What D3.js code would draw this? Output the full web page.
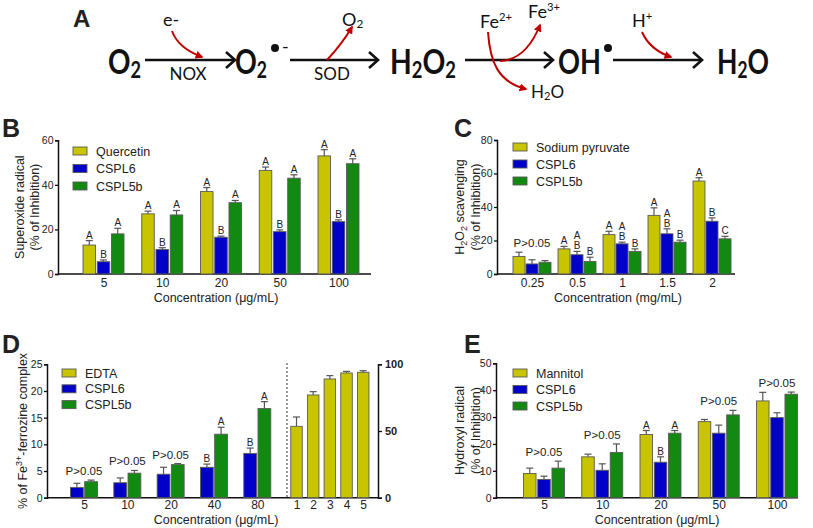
<!DOCTYPE html>
<html>
<head>
<meta charset="utf-8">
<script src="https://cdn.jsdelivr.net/npm/d3@7"></script>
<style>
  body { margin: 0; background: #fff; }
  text { font-family: "Liberation Sans", Arial, sans-serif; fill: #222; }
  .big { font-family: Lato, "Open Sans", sans-serif; font-weight: bold; fill: #111; }
  .chem { font-family: Lato, "Open Sans", sans-serif; fill: #111; }
</style>
</head>
<body>
<svg id="fig" width="813" height="528"></svg>
<script>
// ---- data ----
const bCats = ['5', '10', '20', '50', '100']
const bQuercetin = [13, 27, 37, 46.5, 53]
const bQuercetinErr = [2, 1.2, 1.8, 1.5, 2.8]
const bCSPL6 = [5.5, 11, 16.5, 19, 23.5]
const bCSPL6Err = [0.8, 0.8, 0.5, 0.8, 0.8]
const bCSPL5b = [18, 26.5, 32, 43, 49.5]
const bCSPL5bErr = [2.5, 2, 1, 1.5, 2.2]
const bLetters = [['A','A','A','A','A'], ['B','B','B','B','B'], ['A','A','A','A','A']]
const bTicks = [0, 20, 40, 60]

const cCats = ['0.25', '0.5', '1', '1.5', '2']
const cPyruvate = [10.5, 15, 23.5, 35, 55.5]
const cPyruvateErr = [2.5, 1.5, 2, 4.5, 2]
const cCSPL6 = [6, 11.5, 18, 24, 31.5]
const cCSPL6Err = [2.5, 2, 1, 3, 2]
const cCSPL5b = [7, 7.5, 13.5, 19, 21]
const cCSPL5bErr = [1, 2.5, 1.5, 1.2, 1.5]
const cLetters = [['','A','A','A','A'], ['','AB','AB','AB','B'], ['','B','B','B','C']]
const cPvals = ['P>0.05', '', '', '', '']
const cTicks = [0, 20, 40, 60, 80]

const dCats = ['5', '10', '20', '40', '80']
const dCSPL6 = [1.9, 2.8, 4.4, 5.7, 8.3]
const dCSPL6Err = [0.8, 0.9, 1.3, 0.6, 1.0]
const dCSPL5b = [3, 4.6, 6.2, 11.9, 16.7]
const dCSPL5bErr = [0.3, 0.5, 0.2, 1.3, 1.3]
const dLetters = [['','','','B','B'], ['','','','A','A']]
const dPvals = ['P>0.05', 'P>0.05', 'P>0.05', '', '']
const dTicks = [0, 5, 10, 15, 20, 25]
const dEdtaCats = ['1', '2', '3', '4', '5']
const dEdta = [53.5, 77, 89, 93.5, 94]
const dEdtaErr = [7, 2.5, 2.5, 1.2, 1.2]
const dEdtaTicks = [0, 50, 100]

const eCats = ['5', '10', '20', '50', '100']
const eMannitol = [9, 15.2, 23.5, 28.3, 36]
const eMannitolErr = [2, 1, 1.5, 0.8, 3.2]
const eCSPL6 = [6.8, 10.2, 13.2, 24, 29.8]
const eCSPL6Err = [1.2, 2.4, 2, 3, 1.8]
const eCSPL5b = [11, 16.8, 24, 30.8, 38.5]
const eCSPL5bErr = [2.6, 3.2, 1, 1.7, 0.8]
const eLetters = [['','','A','',''], ['','','B','',''], ['','','A','','']]
const ePvals = ['P>0.05', 'P>0.05', '', 'P>0.05', 'P>0.05']
const eTicks = [0, 10, 20, 30, 40, 50]

const YELLOW = '#c8c400', BLUE = '#0000c8', GREEN = '#128a12'

const svg = d3.select('#fig')

// ---- panel A: reaction scheme ----
const defs = svg.append('defs')
defs.append('marker').attr('id', 'redhead')
  .attr('viewBox', '0 0 10 10').attr('refX', 8).attr('refY', 5)
  .attr('markerWidth', 4).attr('markerHeight', 4).attr('orient', 'auto')
  .append('path').attr('d', 'M0,0 L10,5 L0,10 z').attr('fill', '#c00000')

const A = svg.append('g')
A.append('text').attr('x', 73).attr('y', 27).attr('font-size', 24).attr('font-weight', 'bold').text('A')

// formula text; if len given, squeeze horizontally to that width
function chem (x, y, parts, size, cls, len) {
  const holder = A.append('g').attr('transform', `translate(${x},${y})`)
  const t = holder.append('text').attr('class', cls).attr('font-size', size)
  parts.forEach(p => {
    const s = t.append('tspan').text(p[0])
    if (p[1] === 'sub') s.attr('font-size', size * 0.65).attr('dy', size * 0.1)
    if (p[1] === 'sup') s.attr('font-size', size * 0.62).attr('dy', -size * 0.38)
    if (p[1] === 'back') s.attr('dy', -size * 0.1)
  })
  if (len) {
    const nat = t.node().getComputedTextLength()
    holder.attr('transform', `translate(${x},${y}) scale(${len / nat},1)`)
  }
  return t
}

chem(108, 74, [['O'], ['2', 'sub']], 35, 'big', 33)
chem(235, 74, [['O'], ['2', 'sub']], 35, 'big', 32)
A.append('circle').attr('cx', 275).attr('cy', 48).attr('r', 4).attr('fill', '#111')
A.append('text').attr('class', 'chem').attr('x', 282).attr('y', 53).attr('font-size', 18).text('-')
chem(390, 74, [['H'], ['2', 'sub'], ['O', 'back'], ['2', 'sub']], 35, 'big', 66)
chem(558, 74, [['OH']], 35, 'big', 43)
A.append('circle').attr('cx', 608).attr('cy', 48).attr('r', 4).attr('fill', '#111')
chem(717, 74, [['H'], ['2', 'sub'], ['O', 'back']], 35, 'big', 52)

// black reaction arrows
const arrows = [[145, 235], [290, 378], [465, 553], [613, 702]]
arrows.forEach(a => {
  A.append('line').attr('x1', a[0]).attr('x2', a[1]).attr('y1', 60).attr('y2', 60)
    .attr('stroke', '#111').attr('stroke-width', 2.6)
  A.append('path').attr('d', `M${a[1] - 9},52 L${a[1]},60 L${a[1] - 9},68`)
    .attr('fill', 'none').attr('stroke', '#111').attr('stroke-width', 2.6)
})
A.append('text').attr('class', 'chem').attr('x', 188).attr('y', 80).attr('font-size', 17).attr('text-anchor', 'middle').text('NOX')
A.append('text').attr('class', 'chem').attr('x', 332).attr('y', 80).attr('font-size', 17).attr('text-anchor', 'middle').text('SOD')
chem(163, 26, [['e-']], 18, 'chem')
chem(342, 26, [['O'], ['2', 'sub']], 18, 'chem')
chem(480, 28, [['Fe'], ['2+', 'sup']], 18, 'chem')
chem(528, 18, [['Fe'], ['3+', 'sup']], 18, 'chem')
chem(531, 98, [['H'], ['2', 'sub'], ['O', 'back']], 17, 'chem')
chem(632, 27, [['H'], ['+', 'sup']], 18, 'chem')

const redCurves = [
  'M172,31 Q178,48 202,57',
  'M327,60 Q342,44 352,27',
  'M488,32 C490,62 498,82 526,89',
  'M500,61 Q526,60 540,25',
  'M642,32 Q650,50 671,57'
]
redCurves.forEach(d => {
  A.append('path').attr('d', d).attr('fill', 'none').attr('stroke', '#c00000')
    .attr('stroke-width', 2).attr('marker-end', 'url(#redhead)')
})

// ---- grouped bar panels ----
function barPanel (o) {
  const g = svg.append('g')
  const y = d3.scaleLinear().domain([0, o.yMax]).range([o.yBottom, o.yTop])
  const gx = d3.scalePoint().domain(o.cats).range([o.c0, o.c1])
  const sx = d3.scaleBand().domain(o.series.map(s => s.name))
    .range([-o.groupW / 2, o.groupW / 2]).paddingInner(o.pad)

  g.append('text').attr('x', o.labelX).attr('y', o.labelY).attr('font-size', 25)
    .attr('font-weight', 'bold').attr('fill', '#000').text(o.label)

  // y axis
  const ya = g.append('g').attr('transform', `translate(${o.axisX},0)`)
    .call(d3.axisLeft(y).tickValues(o.ticks).tickSize(3).tickPadding(1.5))
  ya.select('.domain').attr('stroke', '#111').attr('stroke-width', 1.5)
  ya.selectAll('.tick line').attr('stroke', '#111').attr('stroke-width', 1.3)
  ya.selectAll('.tick text').attr('font-size', 10.5).attr('fill', '#222')
    .attr('font-family', '"Liberation Sans", Arial, sans-serif')

  // x axis
  g.append('line').attr('x1', o.axisX).attr('x2', o.axisEnd)
    .attr('y1', o.yBottom).attr('y2', o.yBottom).attr('stroke', '#111').attr('stroke-width', 1.5)
  const xa = g.append('g').attr('transform', `translate(0,${o.yBottom})`)
    .call(d3.axisBottom(gx).tickSize(0).tickPadding(o.tickPad))
  xa.select('.domain').remove()
  xa.selectAll('.tick text').attr('font-size', 12).attr('fill', '#222')
    .attr('font-family', '"Liberation Sans", Arial, sans-serif')

  // bars
  o.series.forEach((s, si) => {
    const bg = g.append('g')
    o.cats.forEach((c, i) => {
      const x = gx(c) + sx(s.name)
      const w = sx.bandwidth()
      const top = y(s.values[i])
      const etop = y(s.values[i] + s.errs[i])
      bg.append('line').attr('x1', x + w / 2).attr('x2', x + w / 2).attr('y1', top).attr('y2', etop)
        .attr('stroke', '#555').attr('stroke-width', 1.2)
      bg.append('line').attr('x1', x + w / 2 - 3.5).attr('x2', x + w / 2 + 3.5).attr('y1', etop).attr('y2', etop)
        .attr('stroke', '#555').attr('stroke-width', 1.2)
      bg.append('rect').attr('x', x).attr('y', top).attr('width', w).attr('height', o.yBottom - top)
        .attr('fill', s.color).attr('stroke', '#5a5a5a').attr('stroke-width', 0.9)
      const lt = o.letters ? o.letters[si][i] : ''
      if (lt) {
        lt.split('').forEach((ch, k) => {
          g.append('text').attr('x', x + w / 2).attr('y', etop - 2 - (lt.length - 1 - k) * 10)
            .attr('text-anchor', 'middle').attr('font-size', 10).attr('fill', '#222').text(ch)
        })
      }
    })
  })

  // p-value labels
  if (o.pvals) {
    o.cats.forEach((c, i) => {
      if (!o.pvals[i]) return
      const m = d3.max(o.series, s => s.values[i] + s.errs[i])
      g.append('text').attr('x', gx(c)).attr('y', y(m) - 5).attr('text-anchor', 'middle')
        .attr('font-size', 11.5).attr('fill', '#222').text(o.pvals[i])
    })
  }

  // legend
  const legSeries = o.legend || o.series
  legSeries.forEach((s, i) => {
    const ly = o.legY + i * o.legStep
    g.append('rect').attr('x', o.legX).attr('y', ly - 4).attr('width', 14).attr('height', 8)
      .attr('fill', s.color).attr('stroke', '#5a5a5a').attr('stroke-width', 0.9)
    g.append('text').attr('x', o.legX + 23).attr('y', ly + 4.5).attr('font-size', 12.5)
      .attr('fill', '#222').text(s.name)
  })

  // axis titles (rotated; baseline placed right of glyph centre)
  const cy = (o.yTop + o.yBottom) / 2
  o.yTitle.forEach((t, i) => {
    const tt = g.append('text').attr('transform', `translate(${o.yTitleX[i] + 4.5},${cy}) rotate(-90)`)
      .attr('text-anchor', 'middle').attr('font-size', 12.5).attr('fill', '#222')
    t.forEach(p => {
      const s = tt.append('tspan').text(p[0])
      if (p[1] === 'sub') s.attr('font-size', 9).attr('dy', 3)
      if (p[1] === 'sup') s.attr('font-size', 9).attr('dy', -5)
      if (p[1] === 'subback') s.attr('dy', -3)
      if (p[1] === 'supback') s.attr('dy', 5)
    })
  })
  g.append('text').attr('x', o.xTitleX).attr('y', o.xTitleY).attr('text-anchor', 'middle')
    .attr('font-size', 12.5).attr('fill', '#222').text('Concentration (μg/mL)'.replace('μg', o.unit))

  return { g, y, gx }
}

// B
barPanel({
  label: 'B', labelX: 2, labelY: 137,
  cats: bCats, yMax: 60, ticks: bTicks, yTop: 140.3, yBottom: 274,
  axisX: 58, axisEnd: 371, c0: 103.5, c1: 338.5, groupW: 41, pad: 0.12, tickPad: 4,
  series: [
    { name: 'Quercetin', color: YELLOW, values: bQuercetin, errs: bQuercetinErr },
    { name: 'CSPL6', color: BLUE, values: bCSPL6, errs: bCSPL6Err },
    { name: 'CSPL5b', color: GREEN, values: bCSPL5b, errs: bCSPL5bErr }
  ],
  letters: bLetters,
  legX: 73, legY: 151, legStep: 17.5,
  yTitle: [[['Superoxide radical']], [['(% of Inhibition)']]], yTitleX: [19, 34],
  xTitleX: 216, xTitleY: 302, unit: 'μg'
})

// C
barPanel({
  label: 'C', labelX: 454, labelY: 137,
  cats: cCats, yMax: 80, ticks: cTicks, yTop: 140, yBottom: 274,
  axisX: 497, axisEnd: 735, c0: 532, c1: 712, groupW: 38, pad: 0.08, tickPad: 4,
  series: [
    { name: 'Sodium pyruvate', color: YELLOW, values: cPyruvate, errs: cPyruvateErr },
    { name: 'CSPL6', color: BLUE, values: cCSPL6, errs: cCSPL6Err },
    { name: 'CSPL5b', color: GREEN, values: cCSPL5b, errs: cCSPL5bErr }
  ],
  letters: cLetters, pvals: cPvals,
  legX: 513, legY: 147, legStep: 17,
  yTitle: [[['H'], ['2', 'sub'], ['O', 'subback'], ['2', 'sub'], [' scavenging', 'subback']], [['(% of Inhibition)']]],
  yTitleX: [459, 475.5],
  xTitleX: 618, xTitleY: 302, unit: 'mg'
})

// D
const dp = barPanel({
  label: 'D', labelX: 2, labelY: 353,
  cats: dCats, yMax: 25, ticks: dTicks, yTop: 364.3, yBottom: 497.7,
  axisX: 47, axisEnd: 378, c0: 84, c1: 257.3, groupW: 27, pad: 0.1, tickPad: 3,
  series: [
    { name: 'CSPL6', color: BLUE, values: dCSPL6, errs: dCSPL6Err },
    { name: 'CSPL5b', color: GREEN, values: dCSPL5b, errs: dCSPL5bErr }
  ],
  legend: [
    { name: 'EDTA', color: YELLOW },
    { name: 'CSPL6', color: BLUE },
    { name: 'CSPL5b', color: GREEN }
  ],
  letters: dLetters, pvals: dPvals,
  legX: 62, legY: 373, legStep: 15.8,
  yTitle: [[['% of Fe'], ['3+', 'sup'], ['-ferrozine complex', 'supback']]], yTitleX: [22],
  xTitleX: 216, xTitleY: 524, unit: 'μg'
})
{
  const g = dp.g
  const yr = d3.scaleLinear().domain([0, 100]).range([497.7, 364.3])
  const ex = d3.scalePoint().domain(dEdtaCats).range([296.5, 363.2])
  const ra = g.append('g').attr('transform', 'translate(378,0)')
    .call(d3.axisRight(yr).tickValues(dEdtaTicks).tickSize(4).tickPadding(3))
  ra.select('.domain').attr('stroke', '#111').attr('stroke-width', 1.5)
  ra.selectAll('.tick line').attr('stroke', '#111').attr('stroke-width', 1.3)
  ra.selectAll('.tick text').attr('font-size', 11).attr('font-weight', 'bold').attr('fill', '#222')
    .attr('font-family', '"Liberation Sans", Arial, sans-serif')
  const xa = g.append('g').attr('transform', 'translate(0,497.7)')
    .call(d3.axisBottom(ex).tickSize(0).tickPadding(3))
  xa.select('.domain').remove()
  xa.selectAll('.tick text').attr('font-size', 12).attr('fill', '#222')
    .attr('font-family', '"Liberation Sans", Arial, sans-serif')
  g.append('line').attr('x1', 287).attr('x2', 287).attr('y1', 363).attr('y2', 497)
    .attr('stroke', '#333').attr('stroke-width', 1).attr('stroke-dasharray', '2,2')
  const w = 11.5
  dEdtaCats.forEach((c, i) => {
    const x = ex(c)
    const top = yr(dEdta[i]), etop = yr(dEdta[i] + dEdtaErr[i])
    g.append('line').attr('x1', x).attr('x2', x).attr('y1', top).attr('y2', etop).attr('stroke', '#555').attr('stroke-width', 1.2)
    g.append('line').attr('x1', x - 3.5).attr('x2', x + 3.5).attr('y1', etop).attr('y2', etop).attr('stroke', '#555').attr('stroke-width', 1.2)
    g.append('rect').attr('x', x - w / 2).attr('y', top).attr('width', w).attr('height', 497.7 - top)
      .attr('fill', YELLOW).attr('stroke', '#5a5a5a').attr('stroke-width', 0.9)
  })
}

// E
barPanel({
  label: 'E', labelX: 464, labelY: 353,
  cats: eCats, yMax: 50, ticks: eTicks, yTop: 363.3, yBottom: 497.7,
  axisX: 496, axisEnd: 798, c0: 544, c1: 777, groupW: 41, pad: 0.12, tickPad: 3,
  series: [
    { name: 'Mannitol', color: YELLOW, values: eMannitol, errs: eMannitolErr },
    { name: 'CSPL6', color: BLUE, values: eCSPL6, errs: eCSPL6Err },
    { name: 'CSPL5b', color: GREEN, values: eCSPL5b, errs: eCSPL5bErr }
  ],
  letters: eLetters, pvals: ePvals,
  legX: 513, legY: 373, legStep: 16.5,
  yTitle: [[['Hydroxyl radical']], [['(% of Inhibition)']]], yTitleX: [459, 475.5],
  xTitleX: 657, xTitleY: 524, unit: 'μg'
})
</script>
</body>
</html>
